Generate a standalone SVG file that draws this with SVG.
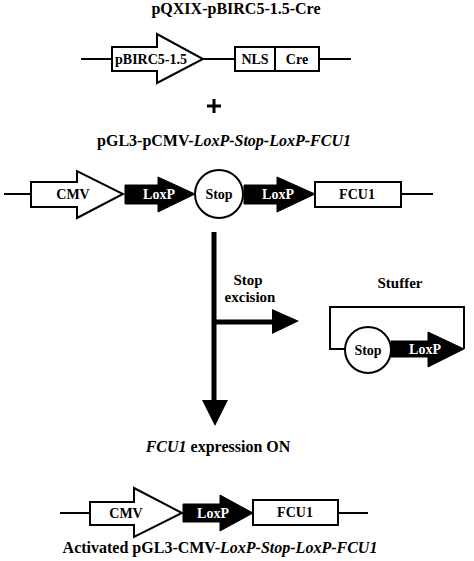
<svg xmlns="http://www.w3.org/2000/svg" width="474" height="561" viewBox="0 0 474 561">
<style>
text{font-family:"Liberation Serif","Times New Roman",serif;font-weight:bold;text-anchor:middle;fill:#000}
.t{font-size:16px}
.l{font-size:14px}
.m{font-size:15px}
.w{fill:#fff}
.i{font-style:italic}
.o{fill:#fff;stroke:#000;stroke-width:2}
.b{fill:#000;stroke:#000;stroke-width:1}
.ln{stroke:#000;stroke-width:2;fill:none}
</style>
<rect width="474" height="561" fill="#fff"/>

<text class="t" x="236" y="14">pQXIX-pBIRC5-1.5-Cre</text>
<g id="plus"><path d="M214 99V113M207 106H221" stroke="#000" stroke-width="3"/></g>
<text class="t" x="224" y="146">pGL3-pCMV-<tspan class="i">LoxP-Stop-LoxP-FCU1</tspan></text>

<g id="connectors">
<path class="ln" d="M81 59H112M203 59H235M319 59H351"/>
<path class="ln" d="M4 194H31M401 194H433"/>
<path class="ln" d="M60 513H90M338 513H368"/>
<path d="M214 232V402" stroke="#000" stroke-width="5"/>
<path d="M202 400H228L215 426Z" fill="#000"/>
<path d="M214 322H274" stroke="#000" stroke-width="5"/>
<path d="M272 309L299 321L272 334Z" fill="#000"/>
</g>

<g id="pBIRC5">
<path class="o" d="M112 47H157V34L203 59L157 83V71H112Z"/>
<text class="l" x="151" y="64">pBIRC5-1.5</text>
</g>
<g id="NLS">
<rect class="o" x="235" y="47" width="40" height="24"/>
<text class="l" x="255" y="64">NLS</text>
</g>
<g id="Cre">
<rect class="o" x="275" y="47" width="44" height="24"/>
<text class="l" x="297" y="64">Cre</text>
</g>

<g id="CMV1">
<path class="o" d="M31 182H77V171L123 194L77 218V207H31Z"/>
<text class="l" x="73" y="199">CMV</text>
</g>
<g id="LoxP1">
<path class="b" d="M125 185H158V177L195 194L158 212V204H125Z"/>
<text class="l w" x="159" y="199">LoxP</text>
</g>
<g id="Stop1">
<circle class="o" cx="219" cy="194" r="24"/>
<text class="l" x="219" y="199">Stop</text>
</g>
<g id="LoxP2">
<path class="b" d="M244 185H277V177L315 194L277 212V204H244Z"/>
<text class="l w" x="278" y="199">LoxP</text>
</g>
<g id="FCU1a">
<rect class="o" x="315" y="182" width="86" height="25"/>
<text class="l" x="357" y="199">FCU1</text>
</g>

<text class="m" x="248" y="285">Stop</text>
<text class="m" x="250" y="302">excision</text>
<text class="m" x="400" y="288">Stuffer</text>

<g id="stuffer">
<path class="ln" d="M345 349H330V307H464V349"/>
<path class="b" d="M391 341H428V332L464 349L428 367V357H391Z"/>
<circle class="o" cx="368" cy="350" r="23"/>
<text class="l" x="368" y="355">Stop</text>
<text class="l w" x="425" y="354">LoxP</text>
</g>

<text class="t" x="218" y="452"><tspan class="i">FCU1</tspan> expression ON</text>

<g id="CMV2">
<path class="o" d="M90 502H134V488L182 513L134 537V525H90Z"/>
<text class="l" x="126" y="518">CMV</text>
</g>
<g id="LoxP3">
<path class="b" d="M183 504H220V495L253 513L220 531V522H183Z"/>
<text class="l w" x="213" y="518">LoxP</text>
</g>
<g id="FCU1b">
<rect class="o" x="253" y="500" width="85" height="25"/>
<text class="l" x="295" y="517">FCU1</text>
</g>

<text class="t" x="220" y="553">Activated pGL3-CMV-<tspan class="i">LoxP-Stop-LoxP-FCU1</tspan></text>
</svg>
